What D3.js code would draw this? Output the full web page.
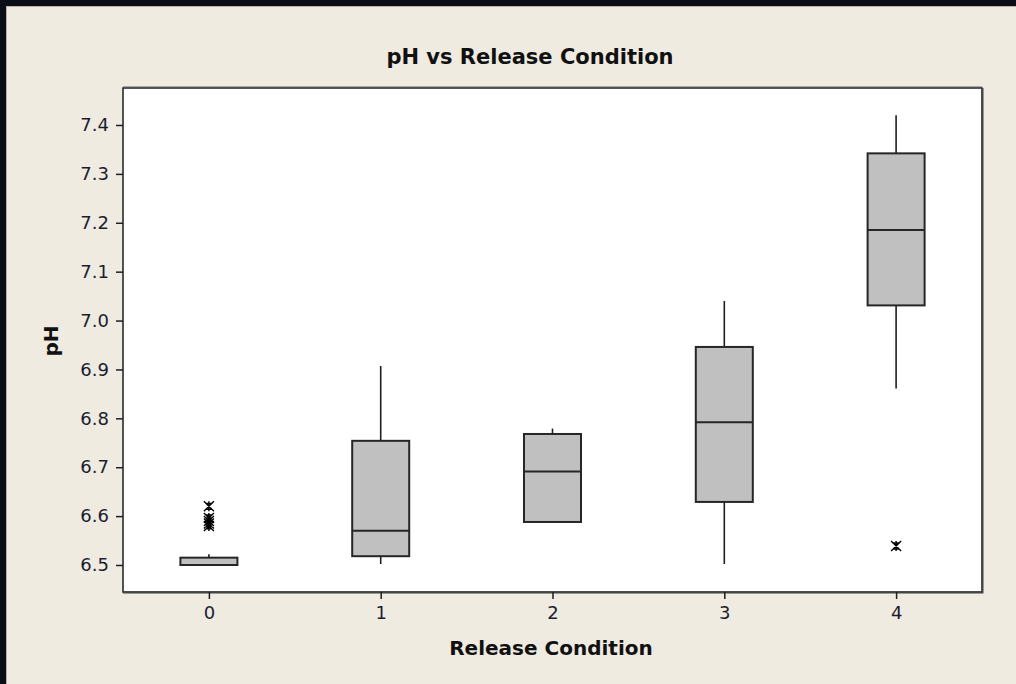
<!DOCTYPE html>
<html>
<head>
<meta charset="utf-8">
<script src="https://cdn.jsdelivr.net/npm/d3@7"></script>
<style>
  html, body { margin: 0; padding: 0; background: #efebe1; }
  svg { display: block; }
</style>
</head>
<body>
<svg id="chart" width="1016" height="684"></svg>
<script>
// Release conditions and the five-number summaries of pH per condition
const categories = [0, 1, 2, 3, 4];
const whiskerLow  = [6.50, 6.502, 6.588, 6.502, 6.861];
const q1          = [6.50, 6.518, 6.588, 6.629, 7.031];
const median      = [6.50, 6.570, 6.691, 6.792, 7.185];
const q3          = [6.515, 6.754, 6.768, 6.946, 7.342];
const whiskerHigh = [6.522, 6.907, 6.779, 7.040, 7.420];
// Outliers as [condition, pH]
const outliers = [[0, 6.62], [0, 6.596], [0, 6.59], [0, 6.585], [0, 6.58], [4, 6.539]];
const yTicks = [6.5, 6.6, 6.7, 6.8, 6.9, 7.0, 7.1, 7.2, 7.3, 7.4];

const svg = d3.select("#chart");
const W = 1016, H = 684;
const plot = { left: 123, top: 88, right: 982, bottom: 592 };
const font = "Tahoma, 'DejaVu Sans', sans-serif";
const textColor = "#1c1c30";

// dark frame along the top and left edges
svg.append("rect").attr("x", 0).attr("y", 0).attr("width", W).attr("height", H).attr("fill", "#efebe1");
svg.append("rect").attr("x", 0).attr("y", 0).attr("width", W).attr("height", 6).attr("fill", "#0b0e16");
svg.append("rect").attr("x", 0).attr("y", 0).attr("width", 6).attr("height", H).attr("fill", "#0b0e16");
svg.append("line").attr("x1", 6).attr("x2", W).attr("y1", 6.5).attr("y2", 6.5).attr("stroke", "#b8b4aa");
svg.append("line").attr("x1", 6.5).attr("x2", 6.5).attr("y1", 6).attr("y2", H).attr("stroke", "#b8b4aa");

const x = d3.scaleLinear().domain([-0.5, 4.5]).range([plot.left, plot.right]);
const y = d3.scaleLinear().domain([6.5, 7.4]).range([565, 125]);
const boxW = 57;

// plot area
svg.append("rect")
  .attr("x", plot.left).attr("y", plot.top)
  .attr("width", plot.right - plot.left).attr("height", plot.bottom - plot.top)
  .attr("fill", "#ffffff").attr("stroke", "#1e1e1e").attr("stroke-width", 1.5);
svg.append("line").attr("x1", plot.left).attr("x2", plot.right).attr("y1", plot.top - 1.5).attr("y2", plot.top - 1.5)
  .attr("stroke", "#a8a8a8").attr("stroke-width", 1);
svg.append("path")
  .attr("d", `M${plot.right + 0.5},${plot.top} V${plot.bottom + 0.5} H${plot.left}`)
  .attr("fill", "none").attr("stroke", "#444").attr("stroke-width", 2);

// axes
const yAxis = d3.axisLeft(y).tickValues(yTicks).tickFormat(d3.format(".1f")).tickSize(7).tickPadding(7);
const gy = svg.append("g").attr("transform", `translate(${plot.left},0)`).call(yAxis);
const xAxis = d3.axisBottom(x).tickValues(categories).tickFormat(d3.format("d")).tickSize(7).tickPadding(7);
const gx = svg.append("g").attr("transform", `translate(0,${plot.bottom})`).call(xAxis);
[gy, gx].forEach(g => {
  g.select(".domain").remove();
  g.selectAll(".tick line").attr("stroke", "#1e1e1e").attr("stroke-width", 1.5);
  g.selectAll(".tick text").attr("fill", textColor).style("font-family", font).style("font-size", "18px");
});

// boxes
const groups = svg.append("g").selectAll("g").data(categories).join("g");
groups.append("line")
  .attr("x1", d => x(d)).attr("x2", d => x(d))
  .attr("y1", (d, i) => y(whiskerHigh[i])).attr("y2", (d, i) => y(q3[i]))
  .attr("stroke", "#1e1e1e").attr("stroke-width", 1.6);
groups.append("line")
  .attr("x1", d => x(d)).attr("x2", d => x(d))
  .attr("y1", (d, i) => y(q1[i])).attr("y2", (d, i) => y(whiskerLow[i]))
  .attr("stroke", "#1e1e1e").attr("stroke-width", 1.6);
groups.append("rect")
  .attr("x", d => x(d) - boxW / 2)
  .attr("y", (d, i) => y(q3[i]))
  .attr("width", boxW)
  .attr("height", (d, i) => y(q1[i]) - y(q3[i]))
  .attr("fill", "#c0c0c0").attr("stroke", "#262626").attr("stroke-width", 2);
groups.append("line")
  .attr("x1", d => x(d) - boxW / 2).attr("x2", d => x(d) + boxW / 2)
  .attr("y1", (d, i) => y(median[i])).attr("y2", (d, i) => y(median[i]))
  .attr("stroke", "#262626").attr("stroke-width", 2);

// outlier asterisks
const s = 5;
const star = `M0,${-s} V${s} M${-s},${-s} L${s},${s} M${s},${-s} L${-s},${s} M${-s * 0.7},${-s * 0.6} H${s * 0.7} M${-s * 0.7},${s * 0.6} H${s * 0.7}`;
svg.append("g").selectAll("path").data(outliers).join("path")
  .attr("transform", d => `translate(${x(d[0])},${y(d[1])})`)
  .attr("d", star)
  .attr("fill", "none").attr("stroke", "#000").attr("stroke-width", 1.4);

// titles
svg.append("text").attr("x", 530).attr("y", 64).attr("text-anchor", "middle")
  .style("font-family", font).style("font-size", "21px").style("font-weight", "bold")
  .attr("fill", "#111").text("pH vs Release Condition");
svg.append("text").attr("x", 551).attr("y", 655).attr("text-anchor", "middle")
  .style("font-family", font).style("font-size", "20px").style("font-weight", "bold")
  .attr("fill", "#111").text("Release Condition");
svg.append("text").attr("transform", "translate(58,341) rotate(-90)").attr("text-anchor", "middle")
  .style("font-family", font).style("font-size", "20px").style("font-weight", "bold")
  .attr("fill", "#111").text("pH");
</script>
</body>
</html>
